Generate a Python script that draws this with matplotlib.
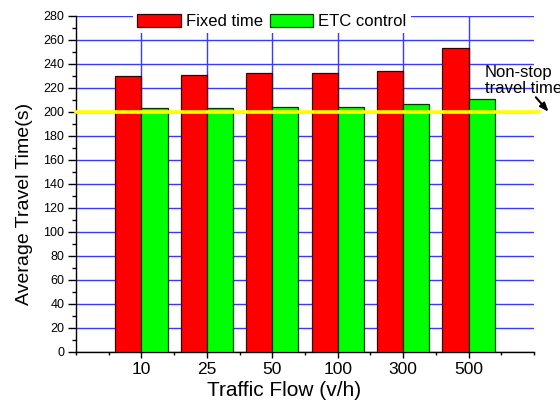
import matplotlib
matplotlib.use("Agg")
import matplotlib.pyplot as plt
from matplotlib.ticker import MultipleLocator

# ── Data ──────────────────────────────────────────────────────────────────────
flows = ["10", "25", "50", "100", "300", "500"]
fixed_time = [230, 231, 232.5, 232.5, 234, 253.5]
etc_control = [203.5, 203.5, 204.5, 204.5, 207, 211]
non_stop = 200

plt.rcParams["font.family"] = ["Liberation Sans", "DejaVu Sans"]

fig = plt.figure(figsize=(5.6, 4.03), dpi=100)
ax = fig.add_axes([76 / 560, 51 / 403, 458 / 560, 336 / 403])

x = list(range(1, len(flows) + 1))
w = 0.4
ax.bar([i - w / 2 for i in x], fixed_time, width=w, color="#ff0000",
       edgecolor="#3a0000", linewidth=0.9, label="Fixed time", zorder=3)
ax.bar([i + w / 2 for i in x], etc_control, width=w, color="#00ff00",
       edgecolor="#003a00", linewidth=0.9, label="ETC control", zorder=3)

# non-stop reference line (drawn over the bars, runs a little past the axis)
ax.axhline(non_stop, xmin=0, xmax=1.011, color="#ffff00", linewidth=2.6,
           zorder=4, clip_on=False)

# ── Axes styling ──────────────────────────────────────────────────────────────
ax.set_xlim(0, 7)
ax.set_ylim(0, 280)
ax.set_xticks(x)
ax.set_xticklabels(flows, fontsize=12.5)
ax.xaxis.set_minor_locator(MultipleLocator(0.5))
ax.yaxis.set_major_locator(MultipleLocator(20))
ax.yaxis.set_minor_locator(MultipleLocator(10))
ax.tick_params(axis="y", which="major", length=5.5, width=1, labelsize=9, pad=3)
ax.tick_params(axis="y", which="minor", length=3, width=1)
ax.tick_params(axis="x", which="major", length=4.5, width=1, pad=3)
ax.tick_params(axis="x", which="minor", length=2.5, width=1)

for side in ("top", "right"):
    ax.spines[side].set_visible(False)
for side in ("left", "bottom"):
    ax.spines[side].set_linewidth(1.0)

ax.grid(True, axis="both", which="major", color="#3a3aff", linewidth=1.0, zorder=0)
ax.set_axisbelow(True)

ax.set_xlabel("Traffic Flow (v/h)", fontsize=15)
ax.xaxis.set_label_coords(0.454, -0.085)
ax.set_ylabel("Average Travel Time(s)", fontsize=14)
ax.yaxis.set_label_coords(-0.094, 0.44)

leg = ax.legend(loc="center", bbox_to_anchor=(0.428, 0.984), ncol=2,
                fontsize=12, frameon=True, fancybox=False, framealpha=1,
                edgecolor="none", facecolor="white", handlelength=2.6,
                handleheight=0.9, handletextpad=0.3, columnspacing=0.45,
                borderpad=0.25, borderaxespad=0)
leg.set_zorder(5)

# ── Annotation ────────────────────────────────────────────────────────────────
ax.text(6.25, 239.5, "Non-stop\ntravel time", fontsize=12, ha="left", va="top",
        linespacing=1.08, zorder=6, clip_on=False)
ax.annotate("", xy=(7.25, 198.5), xytext=(7.0, 214),
            arrowprops=dict(arrowstyle="-|>,head_length=0.5,head_width=0.2",
                            color="black", lw=1.5),
            annotation_clip=False, zorder=6)

fig.savefig("out.png", dpi=100, facecolor="white")
